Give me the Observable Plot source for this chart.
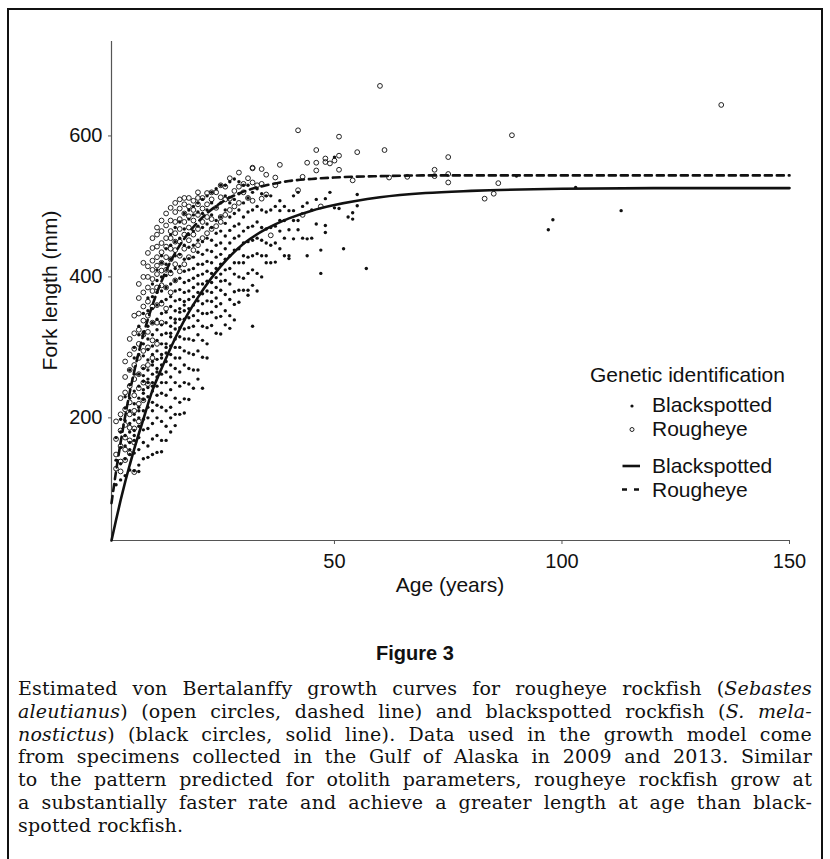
<!DOCTYPE html>
<html><head><meta charset="utf-8">
<script src="https://cdn.jsdelivr.net/npm/d3@7"></script>
<script src="https://cdn.jsdelivr.net/npm/@observablehq/plot@0.6"></script>
<style>
html,body{margin:0;padding:0;background:#fff;}
#page{position:relative;width:830px;height:859px;overflow:hidden;background:#fff;}
#frame{position:absolute;left:7px;top:8px;width:812px;height:900px;border:2px solid #111;border-bottom:none;}
#chart{position:absolute;left:0;top:0;}
#fig{position:absolute;left:0;width:830px;top:642px;text-align:center;font:bold 20px "Liberation Sans",Arial,sans-serif;color:#111;}
#caption{position:absolute;left:18px;width:794px;top:677px;font:19px "DejaVu Serif",serif;letter-spacing:0.2px;line-height:22.8px;color:#111;}
#caption div{text-align:justify;text-align-last:justify;white-space:normal;}
#caption div.last{text-align:left;text-align-last:left;}
</style>
</head><body>
<div id="page">
<div id="frame"></div>
<div id="chart"></div>
<div id="fig">Figure 3</div>
<div id="caption">
<div>Estimated von Bertalanffy growth curves for rougheye rockfish (<i>Sebastes</i></div>
<div><i>aleutianus</i>) (open circles, dashed line) and blackspotted rockfish (<i>S. mela-</i></div>
<div><i>nostictus</i>) (black circles, solid line). Data used in the growth model come</div>
<div>from specimens collected in the Gulf of Alaska in 2009 and 2013. Similar</div>
<div>to the pattern predicted for otolith parameters, rougheye rockfish grow at</div>
<div>a substantially faster rate and achieve a greater length at age than black-</div>
<div class="last">spotted rockfish.</div>
</div>
</div>
<script>
// ---- data (age in years, fork length in mm) ----
const xTicks = [50, 100, 150];
const yTicks = [200, 400, 600];

const blackspotted = [
[2,[105,140,172]],
[3,[112,135,158,180,198]],
[4,[118,142,160,175,196,214,230]],
[5,[126,148,155,165,180,192,210,228,247,268]],
[6,[125,150,168,175,182,197,205,220,238,262,285,300]],
[7,[124,133,155,172,188,200,210,215,228,245,262,290,318,330]],
[8,[142,165,183,198,210,226,235,240,252,260,270,288,305,322,348]],
[9,[144,160,185,200,215,230,243,250,255,268,282,297,312,330,352,370]],
[10,[148,170,192,210,222,238,245,250,262,275,280,290,302,318,335,355,372,390]],
[11,[151,175,200,218,232,245,258,265,270,283,295,310,325,340,360,378,395,410]],
[12,[152,168,195,215,235,250,262,275,285,290,305,318,332,348,365,380,400,420,430]],
[13,[168,188,210,232,250,265,280,292,300,305,320,335,350,368,385,402,418,440]],
[14,[180,200,215,240,258,275,290,302,315,320,330,342,358,372,390,408,425,445,460]],
[15,[189,205,228,250,270,285,300,312,326,335,340,352,366,380,395,412,430,450,470]],
[16,[205,222,245,265,285,300,315,328,340,350,355,368,382,398,415,432,455,478]],
[17,[207,227,250,275,295,312,326,340,352,360,365,378,392,408,425,445,468,490]],
[18,[226,248,270,292,312,328,342,355,368,380,395,410,426,442,460,482,495]],
[19,[242,268,290,310,330,345,360,372,385,398,412,428,445,465,488,500]],
[20,[255,268,295,318,338,352,366,378,390,402,418,435,452,472,492,505]],
[21,[242,286,310,330,348,362,376,390,404,418,432,450,470,490,510]],
[22,[285,305,328,348,366,380,394,408,422,438,455,475,495,515]],
[23,[331,350,365,378,392,405,420,436,452,470,488,505,520]],
[24,[320,342,358,370,385,399,412,428,445,462,480,499,525]],
[25,[319,344,362,381,394,404,418,432,448,465,485,505,530]],
[26,[332,352,375,395,410,425,440,458,476,495,515,530]],
[27,[327,345,368,390,412,430,448,466,485,505,535]],
[28,[339,361,379,404,420,438,455,472,490,510,539]],
[29,[364,381,400,420,440,458,475,495,518,535]],
[30,[381,398,420,430,448,465,485,505,530]],
[31,[374,381,405,428,450,470,492,512,530]],
[32,[330,388,410,430,452,472,495,520]],
[33,[380,405,433,455,478,500,525]],
[34,[400,430,452,470,495,518]],
[35,[420,430,448,468,492,515]],
[36,[420,445,470,495,515]],
[37,[421,448,472,500]],
[38,[440,465,480,494,508]],
[39,[430,455,480,500]],
[40,[426,430,467,494]],
[41,[454,480,494,515]],
[42,[467,480,520]],
[43,[455,500]],
[44,[430,454,505]],
[45,[455,495]],
[46,[475,510]],
[47,[405,438]],
[48,[463,473,511]],
[49,[520]],
[50,[498,570]],
[51,[497]],
[52,[440]],
[53,[485]],
[54,[482,491]],
[55,[501,517]],
[57,[412]],
[90,[543]],
[97,[467]],
[98,[481]],
[103,[527]],
[113,[494]]
];

const rougheye = [
[2,[128,148,170,195]],
[3,[124,138,160,182,205,228]],
[4,[140,155,172,190,212,236,258,280]],
[5,[150,168,186,205,222,245,268,290,312]],
[6,[123,165,185,210,232,255,275,298,320,345]],
[7,[195,220,242,262,285,305,325,348,370,390]],
[8,[225,250,272,295,318,338,358,378,400,420]],
[9,[248,275,300,322,345,365,385,400,415,434]],
[10,[285,310,335,358,380,397,410,423,441,455]],
[11,[305,335,360,385,404,416,428,443,460,470]],
[12,[335,362,388,409,420,435,448,465,480]],
[13,[355,385,410,428,443,455,473,490]],
[14,[378,405,425,440,455,465,480,498]],
[15,[395,418,438,450,462,478,492,505]],
[16,[408,430,450,468,482,497,510]],
[17,[418,440,460,478,490,503,512]],
[18,[428,452,470,486,500,512]],
[19,[438,460,480,495,508]],
[20,[445,468,488,503,512,520]],
[21,[455,478,497,512]],
[22,[462,485,503,519]],
[23,[468,482,510,520]],
[24,[472,498,520]],
[25,[478,485,513,530]],
[26,[488,510,528]],
[27,[495,511,540]],
[28,[500,522]],
[29,[505,528,548]],
[30,[520,532]],
[31,[512,540]],
[32,[508,534,554,555]],
[33,[530]],
[34,[511,532,553]],
[35,[517,545]],
[36,[459]],
[37,[530,541]],
[38,[559]],
[42,[523,608]],
[43,[488,542]],
[44,[562]],
[46,[551,562,580]],
[47,[500]],
[48,[563,568]],
[49,[561]],
[50,[565]],
[51,[572,599,552]],
[54,[537]],
[55,[577]],
[60,[671]],
[61,[580]],
[62,[541]],
[66,[542]],
[72,[552,543]],
[75,[570,546,534]],
[83,[511]],
[85,[518]],
[86,[533]],
[89,[601]],
[135,[644]]
];

// fitted growth curves
const curveAges  = [1,2,3,4,5,6,8,10,12,15,18,20,25,30,35,40,45,50,60,70,80,100,125,150];
const blackCurve = [26,55,83,109,133,156,198,239,270,313,350,371,415,447,468,483,494,502,513,519,522,525,526,526];
const roughCurve = [79,124,165,202,236,266,318,360,394,434,463,478,505,521,530,536,539,541,543,544,544,544,544,544];

// ---- build tables ----
const blackData = blackspotted.flatMap(([age, ls]) => ls.map(length => ({age, length})));
const roughData = rougheye.flatMap(([age, ls]) => ls.map(length => ({age, length})));
const blackLine = curveAges.map((age, i) => ({age, length: blackCurve[i]}));
const roughLine = curveAges.map((age, i) => ({age, length: roughCurve[i]}));

const FONT = '"Liberation Sans", Arial, Helvetica, sans-serif';

const chart = Plot.plot({
  width: 830, height: 610,
  marginLeft: 111, marginRight: 41, marginTop: 41, marginBottom: 70,
  style: {fontFamily: FONT, fontSize: "20px", color: "#111", background: "transparent", overflow: "visible"},
  x: {domain: [1, 150]},
  y: {domain: [26, 734]},
  marks: [
    Plot.ruleX([1], {stroke: "#555", strokeWidth: 1.2}),
    Plot.ruleY([26], {stroke: "#555", strokeWidth: 1.2}),
    Plot.axisX({ticks: xTicks, tickSize: 4, tickPadding: 9, fontSize: 20, stroke: "#555", fill: "#111", label: null}),
    Plot.axisY({ticks: yTicks, tickSize: 3, tickPadding: 6, fontSize: 20, stroke: "#555", fill: "#111", label: null}),
    Plot.dot(roughData, {x: "age", y: "length", r: 2.4, stroke: "#222", strokeWidth: 1, fill: "none"}),
    Plot.dot(blackData, {x: "age", y: "length", r: 1.7, fill: "#111", stroke: "none"}),
    Plot.line(blackLine, {x: "age", y: "length", stroke: "#111", strokeWidth: 2.6, curve: "monotone-x"}),
    Plot.line(roughLine, {x: "age", y: "length", stroke: "#111", strokeWidth: 2.6, strokeDasharray: "7,5", curve: "monotone-x"})
  ]
});
document.getElementById("chart").appendChild(chart);

// axis titles and legend
const svg = d3.select(chart);
const t = svg.append("g").attr("font-family", FONT).attr("font-size", 21).attr("fill", "#111");
t.append("text").attr("transform", "translate(57,290.5) rotate(-90)").attr("text-anchor", "middle").text("Fork length (mm)");
t.append("text").attr("x", 450).attr("y", 592).attr("text-anchor", "middle").text("Age (years)");

const lg = svg.append("g").attr("font-family", FONT).attr("font-size", 21).attr("fill", "#111").attr("text-anchor", "start");
const addText = (x, y, s) => lg.append("text").attr("x", x).attr("y", y).attr("text-anchor", "start").text(s);
addText(590, 381.5, "Genetic identification");
lg.append("circle").attr("cx", 632).attr("cy", 406).attr("r", 1.6).attr("fill", "#111");
addText(652, 412, "Blackspotted");
lg.append("circle").attr("cx", 632).attr("cy", 429.5).attr("r", 2).attr("fill", "none").attr("stroke", "#222").attr("stroke-width", 1);
addText(652, 436, "Rougheye");
lg.append("line").attr("x1", 622.5).attr("x2", 640).attr("y1", 466).attr("y2", 466).attr("stroke", "#111").attr("stroke-width", 2.6);
addText(652, 473.3, "Blackspotted");
lg.append("line").attr("x1", 622).attr("x2", 640).attr("y1", 489.5).attr("y2", 489.5).attr("stroke", "#111").attr("stroke-width", 2.6).attr("stroke-dasharray", "5,7");
addText(652, 497.3, "Rougheye");
</script>
</body></html>
